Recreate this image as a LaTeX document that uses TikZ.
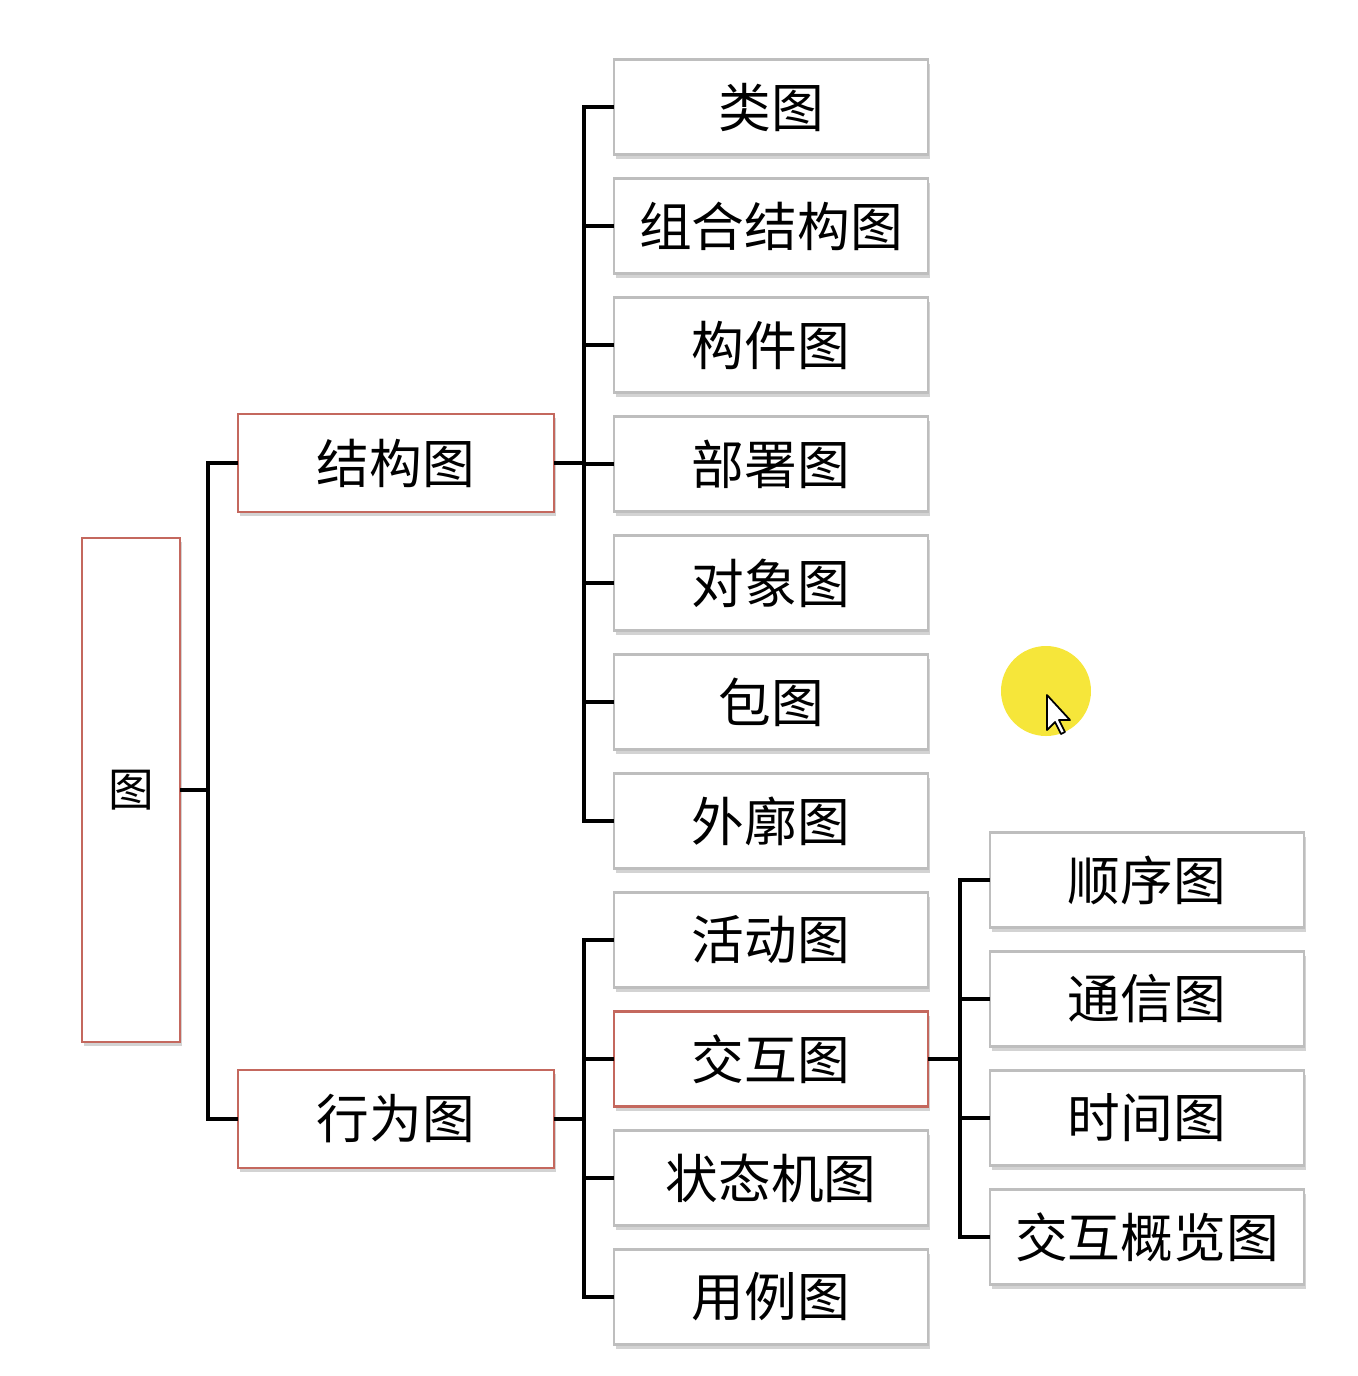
\documentclass[tikz,border=0pt]{standalone}
\usepackage{fontspec}
\usepackage{xcolor}
\usepackage{tikz}
\usetikzlibrary{positioning,shadows}
\setmainfont{Noto Sans CJK SC}

\definecolor{redline}{RGB}{196,104,94}
\definecolor{greyline}{RGB}{190,190,190}
\definecolor{marker}{RGB}{246,230,58}

\begin{document}
\begin{tikzpicture}[
    node distance=0.24cm,
    box/.style={rectangle, draw=greyline, line width=0.8pt, fill=white, minimum width=3.14cm, minimum height=0.95cm,
        inner ysep=1pt, outer sep=0pt, font=\fontsize{15}{18}\selectfont,
        drop shadow={opacity=0.35, shadow xshift=0.5pt, shadow yshift=-1.2pt}},
    redbox/.style={box, draw=redline},
    conn/.style={line width=1.2pt, black}
]
\useasboundingbox (0,0) rectangle (13.58,-13.76);

\node[redbox, minimum width=0.98cm, minimum height=5.04cm, font=\fontsize{13}{15}\selectfont] (root) at (1.31,-7.90) {图};
\node[redbox, minimum width=3.16cm, minimum height=0.98cm] (struct) at (3.96,-4.63) {结构图};
\node[redbox, minimum width=3.16cm, minimum height=0.98cm] (behav) at (3.96,-11.19) {行为图};

% structure diagrams
\node[box] (cls) at (7.71,-1.07) {类图};
\node[box, below=of cls] (comp) {组合结构图};
\node[box, below=of comp] (cpt) {构件图};
\node[box, below=of cpt] (depl) {部署图};
\node[box, below=of depl] (obj) {对象图};
\node[box, below=of obj] (pkg) {包图};
\node[box, below=of pkg] (prof) {外廓图};

% behaviour diagrams
\node[box, below=of prof] (act) {活动图};
\node[redbox, below=of act] (inter) {交互图};
\node[box, below=of inter] (stm) {状态机图};
\node[box, below=of stm] (uc) {用例图};

% interaction diagrams
\node[box] (seq) at (11.47,-8.80) {顺序图};
\node[box, below=of seq] (comm) {通信图};
\node[box, below=of comm] (timing) {时间图};
\node[box, below=of timing] (ovw) {交互概览图};

\draw[conn] (root.east) -- ++(0.28,0) coordinate (rj);
\draw[conn] (rj) |- (struct.west);
\draw[conn] (rj) |- (behav.west);

\draw[conn] (struct.east) -- ++(0.30,0) coordinate (sj);
\foreach \c in {cls,comp,cpt,depl,obj,pkg,prof}
    \draw[conn] (sj) |- (\c.west);

\draw[conn] (behav.east) -- ++(0.30,0) coordinate (bj);
\foreach \c in {act,inter,stm,uc}
    \draw[conn] (bj) |- (\c.west);

\draw[conn] (inter.east) -- ++(0.32,0) coordinate (ij);
\foreach \c in {seq,comm,timing,ovw}
    \draw[conn] (ij) |- (\c.west);

% pointer
\fill[marker] (10.46,-6.91) circle (0.45);
\draw[fill=white, line width=0.5pt, line join=round] (10.47,-6.95) -- (10.47,-7.30) -- (10.55,-7.22) -- (10.61,-7.34)
    -- (10.65,-7.32) -- (10.59,-7.20) -- (10.70,-7.20) -- cycle;
\end{tikzpicture}
\end{document}
